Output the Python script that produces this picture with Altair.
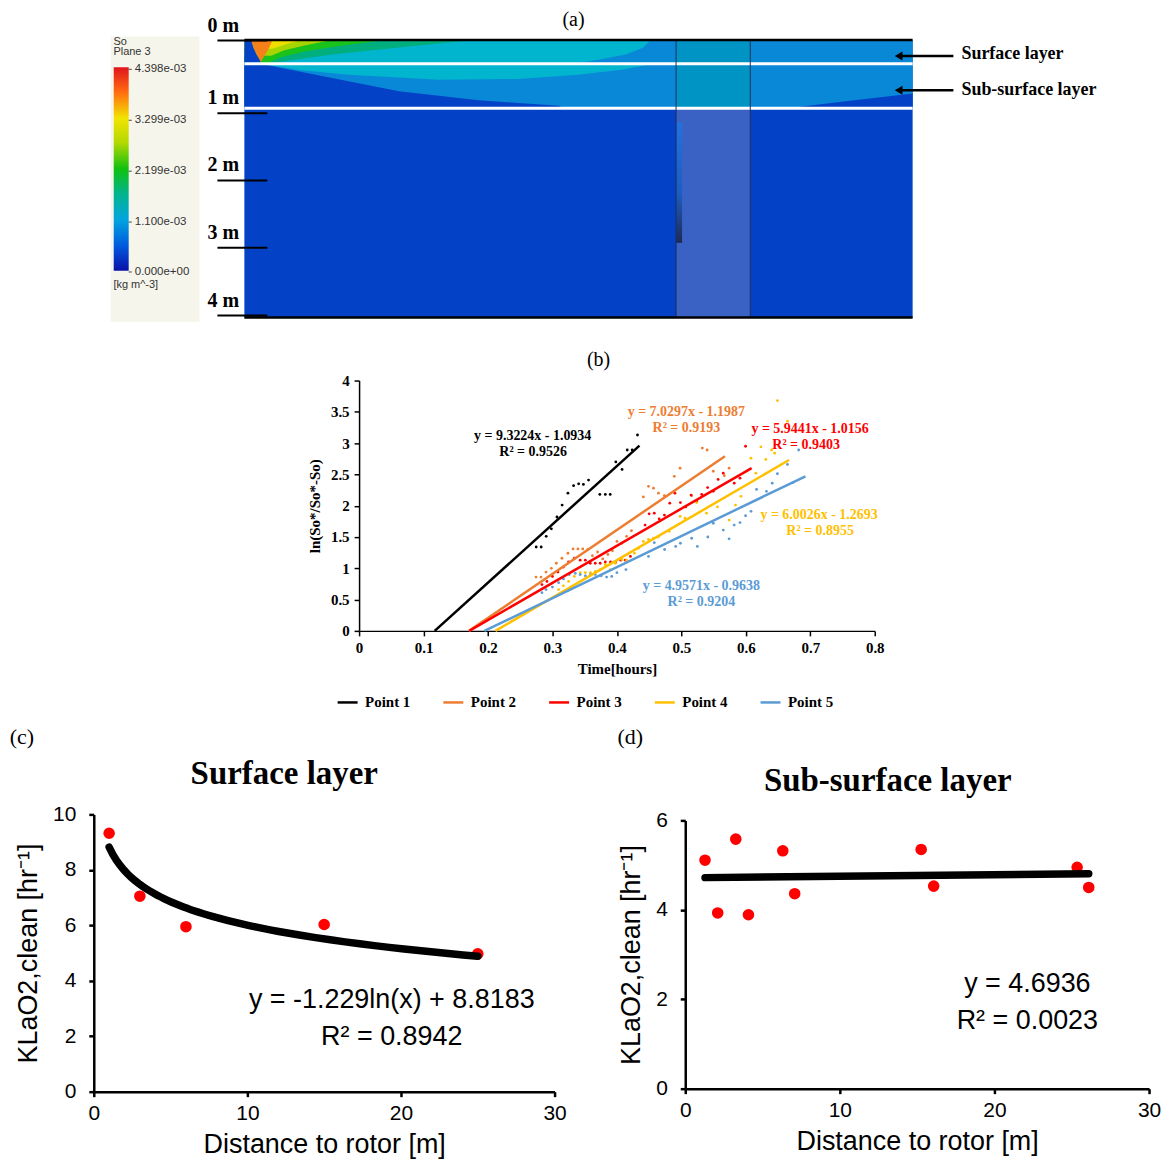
import altair as alt
import pandas as pd

SERIF = "Liberation Serif"
SANS = "Liberation Sans"

# ============================================================ panel (a)
# x: position along the shown tank section (% of its length), d: depth [m]
A_XDOM = [-35.37, 130]
A_DDOM = [-0.41, 4.1]

DEEP, LBLUE, CYAN, TEAL = "#0341c6", "#0a88d8", "#02b5cf", "#00ae7e"
GREEN, YGREEN, YELLOW, ORANGE = "#19c31c", "#a8d400", "#eedf00", "#f4801a"
ROTOR_TOP, ROTOR_LOW = "#0094c4", "#3a62c5"

base_x0 = [-20.0, 0.0, 0.0, 0.0]
base_x1 = [-6.72, 100.0, 100.0, 100.0]
base_d0 = [-0.061, 0.0, 0.0, 0.336]
base_d1 = [4.1, 4.04, 0.336, 0.986]
base_col = ["#f6f5eb", DEEP, LBLUE, LBLUE]

# surface layer bands: depth -> right edge of the band
cyan_d = [0, 0.1, 0.2, 0.28, 0.336]
cyan_r = [60.7, 59.7, 57.2, 53.0, 49.3]
teal_d = [0, 0.1, 0.2, 0.3, 0.336]
teal_r = [33.6, 23.1, 13.4, 6.0, 4.0]
green_d = [0, 0.08, 0.16, 0.25, 0.336]
green_r = [20.6, 14.2, 9.0, 5.2, 3.4]
ygreen_d = [0, 0.07, 0.14, 0.22]
ygreen_r = [12.7, 9.0, 6.0, 4.0]
yellow_d = [0, 0.06, 0.12]
yellow_r = [8.2, 6.0, 4.2]
orange_d = [0, 0.1, 0.2, 0.3]
orange_l = [1.04, 1.34, 1.79, 2.39]
orange_r = [4.18, 3.73, 3.13, 2.54]
wall_d = [0, 0.1, 0.2, 0.3, 0.336]
wall_r = [1.04, 1.34, 1.79, 2.39, 2.5]

# sub-surface layer bands: x -> depth limits
sub_cyan_x = [2.54, 8.21, 15.67, 29.1, 41.0, 50.0, 56.7, 61.2]
sub_cyan_bot = [0.336, 0.43, 0.50, 0.57, 0.56, 0.50, 0.42, 0.336]
sub_deepL_x = [0, 2.54, 8.21, 23.13, 35.07, 47.01, 47.9]
sub_deepL_top = [0.336, 0.34, 0.45, 0.74, 0.87, 0.95, 0.986]
sub_deepR_x = [81.3, 90.3, 100]
sub_deepR_top = [0.986, 0.88, 0.77]

rotor_x = [64.6, 75.7]
layer_lines = [0.336, 0.986]
depth_ticks = [0, 1.06, 2.04, 3.02, 4.01]
depth_labels = ["0 m", "1 m", "2 m", "3 m", "4 m"]

cbar_vals = ["4.398e-03", "3.299e-03", "2.199e-03", "1.100e-03", "0.000e+00"]
cbar_d = [0.419, 1.162, 1.905, 2.647, 3.375]
cbar_stops = [("#e0141c", 0.0), ("#ff6a10", 0.12), ("#f2e400", 0.25), ("#b4d800", 0.37),
              ("#10c010", 0.5), ("#00b48c", 0.62), ("#00a4e0", 0.75), ("#0058dc", 0.88),
              ("#0a10a8", 1.0)]

# ============================================================ panel (b)
series_names = ["Point 1", "Point 2", "Point 3", "Point 4", "Point 5"]
series_colors = ["#000000", "#ed7d31", "#ff0000", "#ffc000", "#5b9bd5"]

t1 = [0.2748, 0.2825, 0.2903, 0.2983, 0.3070, 0.3150, 0.3240, 0.3328, 0.3406, 0.3480,
      0.3560, 0.3735, 0.3820, 0.3896, 0.3983, 0.4080, 0.4160, 0.4237, 0.4319]
v1 = [1.34, 1.34, 1.51, 1.63, 1.82, 2.01, 2.20, 2.32, 2.35, 2.34,
      2.41, 2.18, 2.18, 2.18, 2.70, 2.58, 2.89, 2.89, 3.13]
t2 = [0.2745, 0.2822, 0.2900, 0.2983, 0.3060, 0.3147, 0.3240, 0.3320, 0.3395, 0.3470,
      0.3550, 0.3620, 0.3700, 0.3780, 0.3860, 0.3930, 0.4000, 0.4075, 0.4150, 0.4225,
      0.4410, 0.4490, 0.4567, 0.4644, 0.4737, 0.4890, 0.4980, 0.5160, 0.5325, 0.5400,
      0.5495, 0.5666, 0.5740]
v2 = [0.86, 0.86, 0.94, 1.00, 1.08, 1.16, 1.24, 1.31, 1.31, 1.31,
      1.30, 1.20, 1.26, 1.15, 1.22, 1.28, 1.43, 1.40, 1.51, 1.60,
      2.14, 2.31, 2.28, 2.20, 2.16, 2.47, 2.60, 2.16, 2.92, 2.89,
      2.55, 2.48, 2.60]
t3 = [0.2837, 0.2915, 0.3000, 0.3085, 0.3170, 0.3250, 0.3340, 0.3430, 0.3510, 0.3586,
      0.3664, 0.3740, 0.3820, 0.3900, 0.3980, 0.4060, 0.4130, 0.4210, 0.4437, 0.4500,
      0.4580, 0.4655, 0.4737, 0.4820, 0.4900, 0.4985, 0.5067, 0.5150, 0.5237, 0.5315,
      0.5407, 0.5495, 0.5570, 0.5650, 0.5820, 0.5910, 0.5996]
v3 = [0.74, 0.79, 0.87, 0.94, 1.02, 1.10, 1.16, 1.13, 1.13, 1.08,
      1.08, 1.08, 1.10, 1.10, 1.10, 1.13, 1.13, 1.19, 1.69, 1.87,
      1.88, 1.79, 1.85, 2.04, 2.20, 2.05, 1.98, 2.17, 2.07, 2.18,
      2.29, 2.23, 2.42, 2.52, 2.36, 2.44, 2.95]
t4 = [0.3096, 0.3170, 0.3250, 0.3340, 0.3430, 0.3510, 0.3590, 0.3664, 0.3740, 0.3820,
      0.3900, 0.3975, 0.4077, 0.4150, 0.4272, 0.4334, 0.4410, 0.4490, 0.4567, 0.4640,
      0.4810, 0.4980, 0.5057, 0.5237, 0.5390, 0.5560, 0.5743, 0.5840, 0.5924, 0.6080,
      0.6156, 0.6234, 0.6310, 0.6400, 0.6447, 0.6490, 0.6646]
v4 = [0.66, 0.72, 0.79, 0.87, 0.93, 0.93, 0.93, 0.95, 0.98, 1.06,
      0.98, 1.08, 1.14, 1.13, 1.24, 1.32, 1.43, 1.46, 1.48, 1.50,
      1.59, 1.83, 1.80, 2.05, 1.88, 1.98, 1.77, 2.01, 2.15, 2.76,
      2.52, 2.94, 2.74, 2.89, 2.84, 3.68, 3.35]
t5 = [0.2837, 0.2900, 0.3000, 0.3096, 0.3170, 0.3260, 0.3354, 0.3430, 0.3510, 0.3590,
      0.3664, 0.3757, 0.3840, 0.3920, 0.4000, 0.4140, 0.4490, 0.4580, 0.4740, 0.4912,
      0.4985, 0.5160, 0.5248, 0.5410, 0.5495, 0.5650, 0.5740, 0.5820, 0.5910, 0.5996,
      0.6080, 0.6166, 0.6320, 0.6410, 0.6490, 0.6646, 0.6730, 0.6820]
v5 = [0.61, 0.66, 0.70, 0.77, 0.83, 0.90, 0.92, 0.90, 0.88, 0.90,
      0.90, 0.88, 0.86, 0.87, 0.93, 0.98, 1.19, 1.41, 1.30, 1.35,
      1.40, 1.48, 1.35, 1.50, 1.72, 1.61, 1.47, 1.69, 1.73, 1.84,
      1.91, 2.26, 2.23, 2.36, 2.51, 2.66, 2.37, 2.89]

fit_t0 = [0.1173, 0.1705, 0.1709, 0.2115, 0.1944]
fit_t1 = [0.4350, 0.5676, 0.6090, 0.6670, 0.6925]
fit_v0 = [0.0, 0.0, 0.0, 0.0, 0.0]
fit_v1 = [2.96, 2.79, 2.60, 2.73, 2.47]

eq_lines = ["y = 9.3224x - 1.0934", "R² = 0.9526",
            "y = 7.0297x - 1.1987", "R² = 0.9193",
            "y = 5.9441x - 1.0156", "R² = 0.9403",
            "y = 6.0026x - 1.2693", "R² = 0.8955",
            "y = 4.9571x - 0.9638", "R² = 0.9204"]
eq_t = [0.2693, 0.2700, 0.5077, 0.5077, 0.6997, 0.6935, 0.7136, 0.7152, 0.5310, 0.5310]
eq_v = [3.108, 2.853, 3.490, 3.235, 3.219, 2.964, 1.849, 1.594, 0.717, 0.462]

# ============================================================ panels (c), (d)
c_dist = [1, 3, 6, 15, 25]
c_kla = [9.32, 7.05, 5.95, 6.03, 4.97]
d_dist = [1.28, 2.10, 3.27, 4.09, 6.31, 7.08, 15.26, 16.07, 25.35, 26.10]
d_kla = [5.11, 3.93, 5.58, 3.89, 5.32, 4.36, 5.35, 4.53, 4.95, 4.50]


# ------------------------------------------------------------------ helpers (a)
def AX(f):
    return alt.X(f"{f}:Q", scale=alt.Scale(domain=A_XDOM, nice=False, zero=False), axis=None)


def AY(f):
    return alt.Y(f"{f}:Q", scale=alt.Scale(domain=A_DDOM, reverse=True, nice=False, zero=False),
                 axis=None)


def rects(x0, x1, d0, d1, cols):
    df = pd.DataFrame({"x0": x0, "x1": x1, "d0": d0, "d1": d1, "c": cols})
    return alt.Chart(df).mark_rect().encode(
        x=AX("x0"), x2="x1:Q", y=AY("d0"), y2="d1:Q", fill=alt.Fill("c:N", scale=None))


def hband(depths, lefts, rights, col):
    df = pd.DataFrame({"d": depths, "l": lefts, "r": rights})
    return alt.Chart(df).mark_area(orient="horizontal", color=col).encode(
        y=AY("d"), x=AX("l"), x2="r:Q")


def vband(xs, tops, bottoms, col):
    df = pd.DataFrame({"x": xs, "t": tops, "b": bottoms})
    return alt.Chart(df).mark_area(orient="vertical", color=col).encode(
        x=AX("x"), y=AY("t"), y2="b:Q")


def hrules(ds, x0, x1, color, width):
    df = pd.DataFrame({"d": ds, "x0": x0, "x1": x1})
    return alt.Chart(df).mark_rule(color=color, strokeWidth=width).encode(
        y=AY("d"), x=AX("x0"), x2="x1:Q")


def vrules(xs, d0, d1, color, width):
    df = pd.DataFrame({"x": xs, "d0": d0, "d1": d1})
    return alt.Chart(df).mark_rule(color=color, strokeWidth=width).encode(
        x=AX("x"), y=AY("d0"), y2="d1:Q")


def atexts(xs, ds, labels, **kw):
    df = pd.DataFrame({"x": xs, "d": ds, "s": labels})
    return alt.Chart(df).mark_text(**kw).encode(x=AX("x"), y=AY("d"), text="s:N")


n = len
layers_a = [
    rects(base_x0, base_x1, base_d0, base_d1, base_col),
    hband(cyan_d, [0] * n(cyan_d), cyan_r, CYAN),
    hband(teal_d, [0] * n(teal_d), teal_r, TEAL),
    hband(green_d, [0] * n(green_d), green_r, GREEN),
    hband(ygreen_d, [0] * n(ygreen_d), ygreen_r, YGREEN),
    hband(yellow_d, [0] * n(yellow_d), yellow_r, YELLOW),
    hband(orange_d, orange_l, orange_r, ORANGE),
    hband(wall_d, [0] * n(wall_d), wall_r, DEEP),
    vband(sub_cyan_x, [0.336] * n(sub_cyan_x), sub_cyan_bot, CYAN),
    vband(sub_deepL_x, sub_deepL_top, [0.986] * n(sub_deepL_x), DEEP),
    vband(sub_deepR_x, sub_deepR_top, [0.986] * n(sub_deepR_x), DEEP),
    rects([rotor_x[0]] * 2, [rotor_x[1]] * 2, [0.0, 0.986], [0.986, 4.04], [ROTOR_TOP, ROTOR_LOW]),
    alt.Chart(pd.DataFrame({"x0": [64.6], "x1": [65.5], "d0": [1.20], "d1": [2.95]})).mark_rect(
        color=alt.Gradient(gradient="linear", x1=0, x2=0, y1=0, y2=1,
                           stops=[alt.GradientStop(color="#2272e0", offset=0),
                                  alt.GradientStop(color="#1c5cc0", offset=0.6),
                                  alt.GradientStop(color="#1e2a55", offset=1)])
    ).encode(x=AX("x0"), x2="x1:Q", y=AY("d0"), y2="d1:Q"),
    hrules(layer_lines, [0, 0], [100, 100], "white", 3),
    vrules(rotor_x, [0, 0], [4.04, 4.04], "#1c2f5e", 1),
    hrules([-0.01, 4.04], [0, 0], [100, 100], "black", 2.5),
    hrules(depth_ticks, [-4.03] * 5, [3.43] * 5, "black", 2),
    atexts([-5.5] * 5, depth_ticks, depth_labels, font=SERIF, fontWeight="bold", fontSize=20,
           align="left", baseline="alphabetic", dy=-9, color="black"),
    # colour bar
    alt.Chart(pd.DataFrame({"x0": [-19.55], "x1": [-17.31], "d0": [0.39], "d1": [3.357]})).mark_rect(
        color=alt.Gradient(gradient="linear", x1=0, x2=0, y1=0, y2=1,
                           stops=[alt.GradientStop(color=c, offset=o) for c, o in cbar_stops])
    ).encode(x=AX("x0"), x2="x1:Q", y=AY("d0"), y2="d1:Q"),
    hrules(cbar_d, [-17.31] * 5, [-16.85] * 5, "#444444", 1),
    atexts([-16.4] * 5, cbar_d, cbar_vals, font=SANS, fontSize=11.5, align="left",
           baseline="middle", color="#333333"),
    atexts([-19.6, -19.6, -19.6], [0.02, 0.17, 3.57], ["So", "Plane 3", "[kg m^-3]"],
           font=SANS, fontSize=11, align="left", baseline="middle", color="#333333"),
    atexts([49.25], [-0.30], ["(a)"], font=SERIF, fontSize=20, align="center",
           baseline="middle", color="black"),
    # arrows and layer names
    hrules([0.225, 0.724], [98.0, 98.0], [106.1, 106.1], "black", 2.5),
    alt.Chart(pd.DataFrame({"x": [97.9, 97.9], "d": [0.225, 0.724]})).mark_point(
        shape="triangle-left", filled=True, color="black", size=80, opacity=1
    ).encode(x=AX("x"), y=AY("d")),
    atexts([107.3, 107.3], [0.20, 0.72], ["Surface layer", "Sub-surface layer"],
           font=SERIF, fontWeight="bold", fontSize=18, align="left", baseline="middle",
           color="black"),
]
chart_a = alt.layer(*layers_a).properties(width=1108, height=310)

# ------------------------------------------------------------------ panel (b)
axis_b = dict(labelFont=SERIF, labelFontWeight="bold", labelFontSize=15, labelColor="black",
              titleFont=SERIF, titleFontWeight="bold", titleFontSize=15, titleColor="black",
              domainColor="black", domainWidth=1.5, tickColor="black", tickWidth=1.5,
              tickSize=5, grid=False, labelFlush=False, labelOverlap=False)
bx = alt.X("t:Q", scale=alt.Scale(domain=[0, 0.8], nice=False, zero=False),
           axis=alt.Axis(values=[0, 0.1, 0.2, 0.3, 0.4, 0.5, 0.6, 0.7, 0.8], format="~g",
                         title="Time[hours]", labelPadding=5, titlePadding=6, **axis_b))
by = alt.Y("v:Q", scale=alt.Scale(domain=[0, 4], nice=False, zero=False),
           axis=alt.Axis(values=[0, 0.5, 1, 1.5, 2, 2.5, 3, 3.5, 4], format="~g",
                         title="ln(So*/So*-So)", labelPadding=5, titlePadding=8, **axis_b))

pts_rows = []
for name, col, ts, vs in zip(series_names, series_colors, [t1, t2, t3, t4, t5],
                             [v1, v2, v3, v4, v5]):
    for t, v in zip(ts, vs):
        pts_rows.append({"t": t, "v": v, "col": col})
pts_df = pd.DataFrame(pts_rows)

fit_rows = []
for i, name in enumerate(series_names):
    fit_rows.append({"series": name, "t": fit_t0[i], "v": fit_v0[i]})
    fit_rows.append({"series": name, "t": fit_t1[i], "v": fit_v1[i]})
fit_df = pd.DataFrame(fit_rows)

eq_df = pd.DataFrame({"t": eq_t, "v": eq_v, "s": eq_lines,
                      "col": [c for c in series_colors for _ in range(2)]})

chart_b = alt.layer(
    alt.Chart(pts_df).mark_circle(size=8, opacity=1).encode(
        x=bx, y=by, fill=alt.Fill("col:N", scale=None)),
    alt.Chart(fit_df).mark_line(strokeWidth=2.5).encode(
        x=bx, y=by,
        color=alt.Color("series:N",
                        scale=alt.Scale(domain=series_names, range=series_colors),
                        legend=alt.Legend(orient="none", legendX=-23, legendY=311,
                                          direction="horizontal", columns=5, title=None,
                                          symbolType="stroke", symbolStrokeWidth=2.5,
                                          symbolSize=400, labelFont=SERIF,
                                          labelFontWeight="bold", labelFontSize=15,
                                          labelColor="black", labelOffset=6,
                                          columnPadding=27))),
    alt.Chart(eq_df).mark_text(font=SERIF, fontWeight="bold", fontSize=14,
                               baseline="middle").encode(
        x=bx, y=by, text="s:N", fill=alt.Fill("col:N", scale=None)),
    alt.Chart(pd.DataFrame({"t": [0.3715], "v": [4.335], "s": ["(b)"]})).mark_text(
        font=SERIF, fontSize=20, color="black", baseline="middle").encode(
        x=bx, y=by, text="s:N"),
).properties(width=517, height=251)

# ------------------------------------------------------------------ panels (c), (d)
axis_cd = dict(labelFont=SANS, labelFontSize=21, labelColor="black",
               titleFont=SANS, titleFontSize=27, titleFontWeight="normal", titleColor="black",
               domainColor="black", domainWidth=2.5, tickColor="black", tickWidth=2.5,
               tickSize=5, grid=False, labelFlush=False, labelOverlap=False)


def cd_panel(dist, kla, ymax, yvals, width, height, method, eq, eq_xy, title, title_xy,
             tag, tag_xy):
    cx = alt.X("d:Q", scale=alt.Scale(domain=[0, 30], nice=False, zero=False),
               axis=alt.Axis(values=[0, 10, 20, 30], title="Distance to rotor [m]",
                             labelPadding=6, titlePadding=8, **axis_cd))
    cy = alt.Y("k:Q", scale=alt.Scale(domain=[0, ymax], nice=False, zero=False),
               axis=alt.Axis(values=yvals, title="KLaO2,clean [hr⁻¹]",
                             labelPadding=13, titlePadding=10, **axis_cd))
    df = pd.DataFrame({"d": dist, "k": kla})
    pts = alt.Chart(df).mark_circle(size=135, opacity=1, color="#ff0000").encode(x=cx, y=cy)
    fit = alt.Chart(df).transform_regression("d", "k", method=method).mark_line(
        color="black", strokeWidth=7.5, strokeCap="round").encode(x=cx, y=cy)
    eq_df = pd.DataFrame({"d": [eq_xy[0], eq_xy[0]], "k": [eq_xy[1], eq_xy[2]], "s": eq})
    eqs = alt.Chart(eq_df).mark_text(font=SANS, fontSize=27, color="black",
                                     baseline="middle").encode(x=cx, y=cy, text="s:N")
    ttl = alt.Chart(pd.DataFrame({"d": [title_xy[0]], "k": [title_xy[1]], "s": [title]})
                    ).mark_text(font=SERIF, fontWeight="bold", fontSize=33, color="black",
                                baseline="middle").encode(x=cx, y=cy, text="s:N")
    tg = alt.Chart(pd.DataFrame({"d": [tag_xy[0]], "k": [tag_xy[1]], "s": [tag]})
                   ).mark_text(font=SERIF, fontSize=22, color="black",
                               baseline="middle").encode(x=cx, y=cy, text="s:N")
    return alt.layer(pts, fit, eqs, ttl, tg).properties(width=width, height=height)


chart_c = cd_panel(c_dist, c_kla, 10, [0, 2, 4, 6, 8, 10], 462, 278, "log",
                   ["y = -1.229ln(x) + 8.8183", "R² = 0.8942"], (19.4, 3.31, 1.98),
                   "Surface layer", (12.4, 11.44), "(c)", (-4.68, 12.8))
chart_d = cd_panel(d_dist, d_kla, 6, [0, 2, 4, 6], 465, 269, "linear",
                   ["y = 4.6936", "R² = 0.0023"], (22.13, 2.34, 1.52),
                   "Sub-surface layer", (13.1, 6.87), "(d)", (-3.55, 7.875))


# ------------------------------------------------------------------ layout
def spacer(w, h):
    return alt.Chart(pd.DataFrame({"s": [0]})).mark_point(
        size=0, opacity=0, strokeWidth=0).encode(
        x=alt.value(0), y=alt.value(0)).properties(width=w, height=h)


# nested concat groups take no height in a flush layout, so the spacer rows
# below them carry the whole vertical distance
row_b = alt.hconcat(spacer(352, 1), chart_b, spacing=0, bounds="flush").resolve_scale(
    color="independent")
col_d = alt.vconcat(spacer(1, 6), chart_d, spacing=0, bounds="flush")
row_c = alt.hconcat(spacer(86, 1), chart_c, spacer(131, 1), col_d, spacing=0, bounds="flush")

chart = alt.vconcat(chart_a, spacer(1, 59), row_b, spacer(1, 435), row_c,
                    spacing=0, bounds="flush").resolve_scale(color="independent").properties(
    padding=0, background="white").configure_view(stroke=None)

chart.save("out.html", embed_options={"renderer": "svg", "actions": False})
